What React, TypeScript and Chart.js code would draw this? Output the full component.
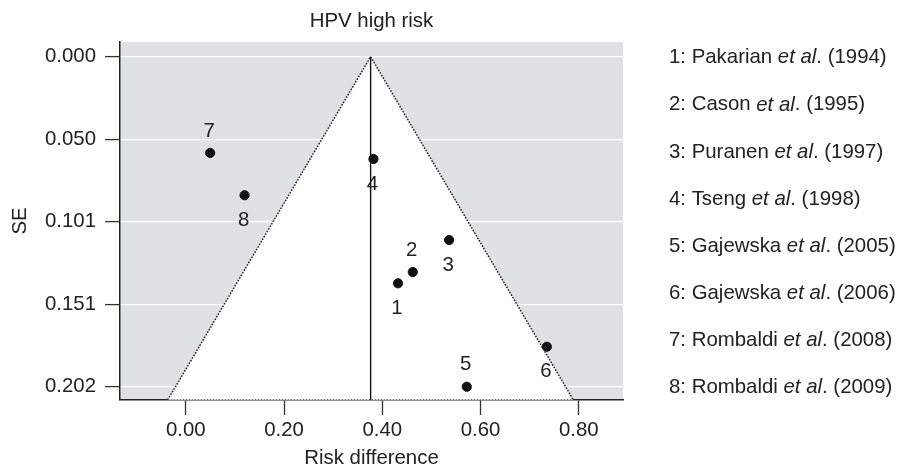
import React, { useEffect, useRef } from "react";
import { Chart, registerables } from "chart.js";

Chart.register(...registerables);

const studyIds = [1, 2, 3, 4, 5, 6, 7, 8];
const authors = ["Pakarian", "Cason", "Puranen", "Tseng", "Gajewska", "Gajewska", "Rombaldi", "Rombaldi"];
const years = [1994, 1995, 1997, 1998, 2005, 2006, 2008, 2009];
const riskDiff = [0.432, 0.462, 0.536, 0.382, 0.572, 0.735, 0.0495, 0.1196];
const seValues = [0.1387, 0.1318, 0.1122, 0.0626, 0.202, 0.1775, 0.0589, 0.0848];
const labelSide = ["below", "above", "below", "below", "above", "below", "above", "below"];

const funnelX = [-0.037, 0.3762, 0.789];
const funnelSE = [0.2101, 0, 0.2101];
const baseX = [-0.037, 0.789];
const baseSE = [0.2101, 0.2101];
const pooledX = [0.3762, 0.3762];
const pooledSE = [0, 0.2101];

const xTicks = [0, 0.2, 0.4, 0.6, 0.8];
const yTicks = [0, 0.0505, 0.101, 0.1515, 0.202];
const yTickLabels = ["0.000", "0.050", "0.101", "0.151", "0.202"];

const FONT = "'Liberation Sans', Arial, Helvetica, sans-serif";
const FS = 20.4;
const TXT = "#222";

export default function App() {
  const ref = useRef<HTMLCanvasElement | null>(null);

  useEffect(() => {
    document.body.style.margin = "0";
    const canvas = ref.current;
    if (!canvas) return;

    const bgPlugin = {
      id: "bgPlugin",
      beforeDraw(chart: any) {
        const { ctx, chartArea } = chart;
        ctx.save();
        ctx.fillStyle = "#e0e1e3";
        ctx.fillRect(chartArea.left, chartArea.top, chartArea.right - chartArea.left, chartArea.bottom - chartArea.top);
        ctx.restore();
      },
      afterDatasetsDraw(chart: any) {
        const { ctx } = chart;
        const xs = chart.scales.x;
        const ys = chart.scales.y;
        ctx.save();
        ctx.font = `${FS}px ${FONT}`;
        ctx.fillStyle = TXT;
        ctx.textAlign = "center";
        ctx.textBaseline = "middle";
        studyIds.forEach((id, i) => {
          const px = xs.getPixelForValue(riskDiff[i]);
          const py = ys.getPixelForValue(seValues[i]);
          const dy = labelSide[i] === "above" ? -22 : 25;
          ctx.fillText(String(id), px - 1, py + dy);
        });
        ctx.restore();
      },
      afterDraw(chart: any) {
        const { ctx } = chart;
        const ys = chart.scales.y;
        const y0 = ys.getPixelForValue(yTicks[0]) + 1;
        const y1 = ys.getPixelForValue(yTicks[yTicks.length - 1]) + 1;
        const lx = 669;
        ctx.save();
        ctx.fillStyle = TXT;
        ctx.textAlign = "left";
        ctx.textBaseline = "middle";
        const n = studyIds.length;
        studyIds.forEach((id, i) => {
          const y = y0 + ((y1 - y0) * i) / (n - 1);
          let x = lx;
          const parts: [string, boolean][] = [
            [`${id}: ${authors[i]} `, false],
            ["et al", true],
            [`. (${years[i]})`, false],
          ];
          parts.forEach(([t, it]) => {
            ctx.font = `${it ? "italic " : ""}${FS}px ${FONT}`;
            ctx.fillText(t, x, y);
            x += ctx.measureText(t).width;
          });
        });
        ctx.restore();
      },
    };

    const chart = new Chart(canvas, {
      type: "scatter",
      data: {
        datasets: [
          {
            label: "Studies",
            data: riskDiff.map((x, i) => ({ x, y: seValues[i] })),
            backgroundColor: "#111",
            borderColor: "#111",
            pointRadius: 4.6,
            pointHoverRadius: 4.6,
            showLine: false,
          },
          {
            type: "line",
            label: "Pooled",
            data: pooledX.map((x, i) => ({ x, y: pooledSE[i] })),
            borderColor: "#111",
            borderWidth: 1.4,
            pointRadius: 0,
            fill: false,
            tension: 0,
          },
          {
            type: "line",
            label: "Base",
            data: baseX.map((x, i) => ({ x, y: baseSE[i] })),
            borderColor: "#444",
            borderWidth: 1.5,
            borderDash: [1.6, 1.4],
            pointRadius: 0,
            fill: false,
            tension: 0,
          },
          {
            type: "line",
            label: "Funnel",
            data: funnelX.map((x, i) => ({ x, y: funnelSE[i] })),
            borderColor: "#222",
            borderWidth: 1.5,
            borderDash: [1.6, 1.4],
            pointRadius: 0,
            backgroundColor: "#ffffff",
            fill: { value: 0.2101 },
            tension: 0,
          } as any,
        ],
      },
      options: {
        animation: false,
        responsive: false,
        maintainAspectRatio: false,
        layout: { padding: { left: 0, right: 275, top: 0, bottom: 0 } },
        plugins: {
          legend: { display: false },
          tooltip: { enabled: false },
          filler: { propagate: false },
          title: {
            display: true,
            text: "HPV high risk",
            fullSize: false,
            color: TXT,
            font: { family: FONT, size: FS, weight: "normal" },
            padding: { top: 8.8, bottom: 8.7 },
          },
        },
        scales: {
          x: {
            type: "linear",
            min: -0.134,
            max: 0.89,
            afterBuildTicks: (s: any) => {
              s.ticks = xTicks.map((v) => ({ value: v }));
            },
            afterFit: (s: any) => {
              s.height = 71;
            },
            ticks: {
              color: TXT,
              font: { family: FONT, size: FS },
              padding: 3,
              callback: (v: any) => Number(v).toFixed(2),
            },
            grid: {
              display: true,
              drawOnChartArea: false,
              drawTicks: true,
              tickLength: 15,
              tickColor: "#333",
              tickWidth: 1.3,
            },
            border: { display: true, color: "#222", width: 1.5 },
            title: {
              display: true,
              text: "Risk difference",
              color: TXT,
              font: { family: FONT, size: FS },
              padding: { top: 0, bottom: 0 },
            },
          },
          y: {
            type: "linear",
            reverse: true,
            min: -0.009,
            max: 0.2101,
            afterBuildTicks: (s: any) => {
              s.ticks = yTicks.map((v) => ({ value: v }));
            },
            afterFit: (s: any) => {
              s.width = 120;
            },
            ticks: {
              color: TXT,
              font: { family: FONT, size: FS },
              padding: 9,
              callback: (v: any) => {
                const idx = yTicks.findIndex((t) => Math.abs(t - Number(v)) < 1e-9);
                return idx >= 0 ? yTickLabels[idx] : "";
              },
            },
            grid: {
              color: "#ffffff",
              lineWidth: 1.2,
              tickLength: 15,
              tickColor: "#333",
              tickWidth: 1.3,
            },
            border: { display: true, color: "#222", width: 1.5 },
            title: {
              display: true,
              text: "SE",
              color: TXT,
              font: { family: FONT, size: FS },
              padding: { top: 8.5, bottom: 0 },
            },
          },
        },
      },
      plugins: [bgPlugin],
    });

    return () => chart.destroy();
  }, []);

  return (
    <div style={{ width: 898, height: 471 }}>
      <canvas ref={ref} width={898} height={471} />
    </div>
  );
}
